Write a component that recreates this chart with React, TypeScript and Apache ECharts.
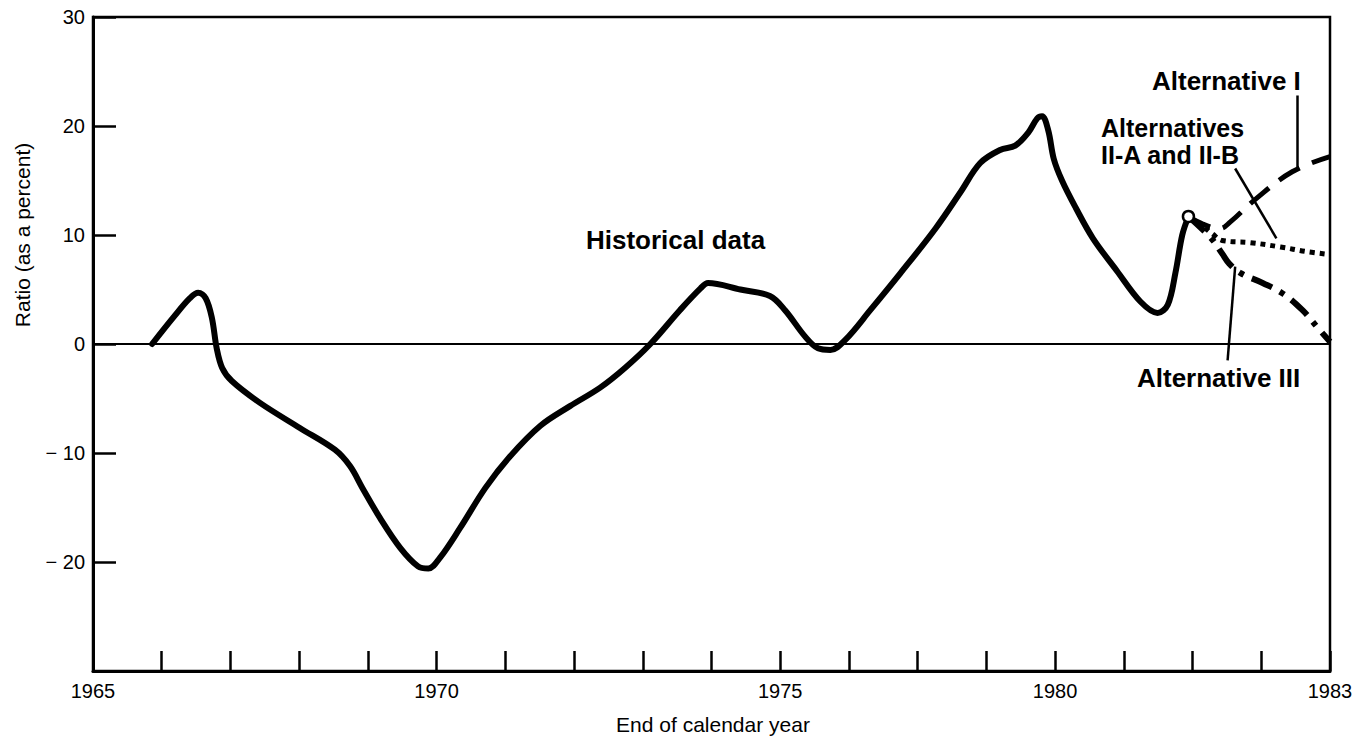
import React, { useEffect, useRef } from "react";
import * as echarts from "echarts";

// x positions are measured in axis steps from the left edge (the 1965 tick); 18 steps reach the right edge
const xTickLabels = ["1965", "", "", "", "", "1970", "", "", "", "", "1975", "", "", "", "1980", "", "", "", "1983"];
const yTicks = [-30, -20, -10, 0, 10, 20, 30];

const historical: [number, number][] = [
  [0.86, 0.0], [1.19, 2.6], [1.41, 4.2], [1.53, 4.7], [1.64, 4.2], [1.73, 2.4], [1.8, -0.4],
  [1.88, -2.2], [2.02, -3.4], [2.43, -5.4], [3.01, -7.7], [3.52, -9.7], [3.74, -11.2],
  [3.92, -13.2], [4.18, -16.0], [4.47, -18.7], [4.73, -20.4], [4.88, -20.6], [5.05, -19.6],
  [5.34, -16.9], [5.71, -13.2], [6.07, -10.3], [6.51, -7.5], [6.94, -5.7], [7.38, -4.0],
  [7.74, -2.2], [8.11, 0.0], [8.54, 3.1], [8.84, 5.1], [8.95, 5.6], [9.42, 5.0], [9.85, 4.4],
  [10.07, 3.1], [10.36, 0.7], [10.55, -0.4], [10.73, -0.55], [10.95, 0.4], [11.31, 3.1],
  [11.75, 6.5], [12.26, 10.6], [12.62, 13.9], [12.91, 16.6], [13.2, 17.8], [13.42, 18.2],
  [13.61, 19.4], [13.74, 20.7], [13.81, 20.9], [13.9, 19.6], [13.98, 17.0], [14.1, 15.0],
  [14.3, 12.5], [14.55, 9.7], [14.9, 6.7], [15.24, 3.9], [15.49, 2.85], [15.64, 3.6],
  [15.75, 6.5], [15.85, 10.0], [15.94, 11.7],
];
const lastHistorical: [number, number][] = [[15.94, 11.7]];

const alternativeI: [number, number][] = [
  [15.94, 11.7], [16.15, 11.0], [16.4, 10.6], [16.55, 11.2], [16.9, 13.2], [17.45, 15.8], [18.0, 17.2],
];
const alternativesII: [number, number][] = [
  [15.94, 11.7], [16.11, 11.0], [16.29, 10.1], [16.43, 9.5], [16.84, 9.3], [17.28, 8.9], [17.64, 8.5], [18.0, 8.2],
];
const alternativeIII: [number, number][] = [
  [15.94, 11.7], [16.27, 9.7], [16.43, 8.3], [16.53, 7.4], [16.7, 6.5], [17.02, 5.6], [17.32, 4.6],
  [17.6, 3.1], [17.82, 1.5], [18.0, 0.2],
];

// annotation arrows: [from, to] in axis units
const arrowI: [number, number][] = [[17.53, 22.8], [17.53, 16.1]];
const arrowII: [number, number][] = [[16.62, 16.1], [17.22, 9.7]];
const arrowIII: [number, number][] = [[16.51, -1.5], [16.62, 7.1]];

const FONT = "'Liberation Sans', Arial, Helvetica, sans-serif";

export default function App() {
  const ref = useRef<HTMLDivElement>(null);
  useEffect(() => {
    if (!ref.current) return;
    const chart = echarts.init(ref.current, undefined, { renderer: "svg" });
    const arrowLine = (pts: [number, number][]) => ({
      symbol: ["none", "arrow"],
      symbolSize: [0, 14],
      silent: true,
      label: { show: false },
      lineStyle: { color: "#000", width: 2.5, type: "solid" },
      data: [[{ coord: pts[0] }, { coord: pts[1] }]],
    });
    const lastIndex = xTickLabels.length - 1;
    chart.setOption({
      animation: false,
      backgroundColor: "#fff",
      textStyle: { fontFamily: FONT },
      grid: {
        left: 93, right: 23, top: 17, bottom: 69,
        outerBoundsMode: "none",
        containLabel: false,
        show: true, borderColor: "#000", borderWidth: 2.5, backgroundColor: "transparent",
      },
      xAxis: {
        type: "value",
        min: 0,
        max: lastIndex,
        interval: 1,
        axisLine: { show: true, onZero: false, lineStyle: { color: "#000", width: 3 } },
        axisTick: { show: true, inside: true, length: 20, lineStyle: { color: "#000", width: 2.5 } },
        axisLabel: {
          color: "#000",
          fontSize: 20,
          fontFamily: FONT,
          margin: 10,
          showMinLabel: true,
          showMaxLabel: true,
          formatter: (v: number) => xTickLabels[Math.round(v)] ?? "",
        },
        splitLine: { show: false },
      },
      yAxis: {
        type: "value",
        min: yTicks[0],
        max: yTicks[yTicks.length - 1],
        interval: 10,
        axisLine: { show: true, lineStyle: { color: "#000", width: 3 } },
        axisTick: { show: true, inside: true, length: 23, lineStyle: { color: "#000", width: 2.5 } },
        axisLabel: {
          color: "#000",
          fontSize: 20,
          fontFamily: FONT,
          margin: 8,
          formatter: (v: number) => (v <= -30 ? "" : v < 0 ? "\u2212 " + Math.abs(v) : String(v)),
        },
        splitLine: { show: false },
      },
      series: [
        {
          type: "line",
          data: historical,
          smooth: 0.35,
          symbol: "none",
          lineStyle: { color: "#000", width: 6, cap: "round", join: "round" },
          z: 5,
          markLine: {
            silent: true,
            symbol: ["none", "none"],
            label: { show: false },
            lineStyle: { color: "#000", width: 2, type: "solid" },
            data: [{ yAxis: 0 }],
          },
        },
        {
          type: "line",
          data: alternativeI,
          smooth: 0.4,
          symbol: "none",
          lineStyle: { color: "#000", width: 5, type: [24, 13], cap: "butt" },
          z: 4,
          markLine: arrowLine(arrowI),
        },
        {
          type: "line",
          data: alternativesII,
          smooth: 0.4,
          symbol: "none",
          lineStyle: { color: "#000", width: 5, type: [5, 5], cap: "butt" },
          z: 4,
          markLine: arrowLine(arrowII),
        },
        {
          type: "line",
          data: alternativeIII,
          smooth: 0.4,
          symbol: "none",
          lineStyle: { color: "#000", width: 6, type: [22, 9, 5, 9], cap: "butt" },
          z: 4,
          markLine: arrowLine(arrowIII),
        },
        {
          type: "scatter",
          data: lastHistorical,
          symbol: "circle",
          symbolSize: 11,
          itemStyle: { color: "#fff", borderColor: "#000", borderWidth: 2.5, opacity: 1 },
          z: 10,
        },
      ],
      graphic: [
        {
          type: "text", x: 22, y: 235, rotation: Math.PI / 2,
          style: { text: "Ratio (as a percent)", font: `21px ${FONT}`, fill: "#000", align: "center", verticalAlign: "middle" },
        },
        {
          type: "text", x: 713, y: 724,
          style: { text: "End of calendar year", font: `21px ${FONT}`, fill: "#000", align: "center", verticalAlign: "middle" },
        },
        {
          type: "text", x: 586, y: 240,
          style: { text: "Historical data", font: `bold 26px ${FONT}`, fill: "#000", align: "left", verticalAlign: "middle" },
        },
        {
          type: "text", x: 1152, y: 81,
          style: { text: "Alternative I", font: `bold 26px ${FONT}`, fill: "#000", align: "left", verticalAlign: "middle" },
        },
        {
          type: "text", x: 1101, y: 128,
          style: { text: "Alternatives", font: `bold 25px ${FONT}`, fill: "#000", align: "left", verticalAlign: "middle" },
        },
        {
          type: "text", x: 1101, y: 155,
          style: { text: "II-A and II-B", font: `bold 25px ${FONT}`, fill: "#000", align: "left", verticalAlign: "middle" },
        },
        {
          type: "text", x: 1137, y: 378,
          style: { text: "Alternative III", font: `bold 26px ${FONT}`, fill: "#000", align: "left", verticalAlign: "middle" },
        },
      ],
    });
    return () => chart.dispose();
  }, []);
  return (
    <div
      ref={ref}
      style={{ position: "fixed", left: 0, top: 0, width: 1353, height: 740, background: "#fff" }}
    />
  );
}
